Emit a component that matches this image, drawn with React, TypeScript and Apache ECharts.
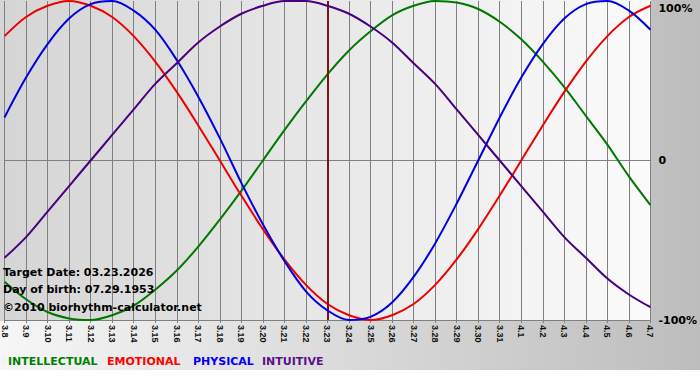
import React, { useEffect, useRef } from 'react';
import * as echarts from 'echarts';

const days = [
  '3.8', '3.9', '3.10', '3.11', '3.12', '3.13', '3.14', '3.15', '3.16', '3.17', '3.18',
  '3.19', '3.20', '3.21', '3.22', '3.23', '3.24', '3.25', '3.26', '3.27', '3.28', '3.29',
  '3.30', '3.31', '4.1', '4.2', '4.3', '4.4', '4.5', '4.6', '4.7',
];

const intellectual = [
  -76, -87, -95, -99, -100, -97, -91, -81, -69, -54, -37, -19, 0, 19, 37, 54,
  69, 81, 91, 97, 100, 99, 95, 87, 76, 62, 46, 28, 10, -10, -28,
];
const emotional = [
  78, 90, 97, 100, 97, 90, 78, 62, 43, 22, 0, -22, -43, -62, -78, -90,
  -97, -100, -97, -90, -78, -62, -43, -22, 0, 22, 43, 62, 78, 90, 97,
];
const physical = [
  27, 52, 73, 89, 98, 100, 94, 82, 63, 40, 14, -14, -40, -63, -82, -94,
  -100, -98, -89, -73, -52, -27, 0, 27, 52, 73, 89, 98, 100, 94, 82,
];
const intuitive = [
  -61, -48, -32, -16, 0, 16, 32, 48, 61, 74, 84, 92, 97, 100, 100, 97,
  92, 84, 74, 61, 48, 32, 16, 0, -16, -32, -48, -61, -74, -84, -92,
];

const seriesNames = ['INTELLECTUAL', 'EMOTIONAL', 'PHYSICAL', 'INTUITIVE'];
const seriesData = [intellectual, emotional, physical, intuitive];
const lineColors = ['#007800', '#ee0000', '#0000e0', '#48007f'];
const legendColors = ['#008000', '#ff0000', '#0000ff', '#5c0f8b'];
const targetDay = '3.23';
const yTicks = { min: -100, max: 100, step: 100 };
const infoLines = ['Target Date: 03.23.2026', 'Day of birth: 07.29.1953', '\u00a92010 biorhythm-calculator.net'];

export default function App() {
  const ref = useRef<HTMLDivElement>(null);

  useEffect(() => {
    if (!ref.current) return;
    const chart = echarts.init(ref.current, null, { renderer: 'svg' });

    const legendX = [8, 107, 193, 262];
    const infoY = [272, 289, 307];

    const graphic: any[] = [
      {
        type: 'rect',
        z: -10,
        silent: true,
        shape: { x: 0, y: 0, width: 700, height: 370 },
        style: {
          fill: {
            type: 'linear', x: 0, y: 0, x2: 1, y2: 0,
            colorStops: [
              { offset: 0, color: '#f6f6f6' },
              { offset: 1, color: '#bdbdbd' },
            ],
          },
        },
      },
      {
        type: 'rect',
        z: -9,
        silent: true,
        shape: { x: 0, y: 0, width: 651, height: 321 },
        style: {
          fill: {
            type: 'linear', x: 0, y: 0, x2: 1, y2: 0,
            colorStops: [
              { offset: 0, color: '#d5d5d5' },
              { offset: 1, color: '#fbfbfb' },
            ],
          },
        },
      },
      ...seriesNames.map((name, i) => ({
        type: 'text',
        z: 100,
        x: legendX[i],
        y: 361,
        style: {
          text: name,
          fill: legendColors[i],
          font: 'bold 11px "DejaVu Sans"',
          verticalAlign: 'middle',
        },
      })),
      ...infoLines.map((t, i) => ({
        type: 'text',
        z: 100,
        x: 3,
        y: infoY[i],
        style: {
          text: t,
          fill: '#000',
          font: 'bold 11px "DejaVu Sans"',
          verticalAlign: 'middle',
        },
      })),
    ];

    const series: any[] = seriesNames.map((name, i) => ({
      name,
      type: 'line',
      data: seriesData[i],
      smooth: 0.33,
      symbol: 'none',
      lineStyle: { width: 2, color: lineColors[i] },
      itemStyle: { color: lineColors[i] },
      z: 3 + i,
    }));
    series[0].markLine = {
      silent: true,
      symbol: ['none', 'none'],
      label: { show: false },
      lineStyle: { color: '#7a1414', width: 2, type: 'solid' },
      data: [{ xAxis: targetDay }],
    };

    chart.setOption({
      animation: false,
      backgroundColor: 'transparent',
      graphic,
      grid: { left: 0, right: 49, top: 1, bottom: 60, containLabel: false },
      xAxis: {
        type: 'category',
        data: days,
        boundaryGap: false,
        axisLine: { show: true, onZero: false, lineStyle: { color: '#808080', width: 1 } },
        axisTick: { show: true, length: 3, interval: 0, lineStyle: { color: '#808080' } },
        axisLabel: {
          interval: 0,
          rotate: -90,
          margin: 5,
          fontSize: 9,
          fontWeight: 'bold',
          fontFamily: '"Liberation Sans", Arial, sans-serif',
          color: '#111',
        },
        splitLine: { show: true, interval: 0, lineStyle: { color: '#808080', width: 1 } },
      },
      yAxis: {
        type: 'value',
        position: 'right',
        min: yTicks.min,
        max: yTicks.max,
        interval: yTicks.step,
        axisLine: { show: false },
        axisTick: { show: false },
        splitLine: {
          show: true,
          lineStyle: { color: ['#808080', '#808080', 'rgba(0,0,0,0)'], width: 1 },
        },
        axisLabel: {
          margin: 8,
          fontSize: 11,
          fontWeight: 'bold',
          fontFamily: '"DejaVu Sans", sans-serif',
          color: '#000',
          formatter: (v: number) => (v === 100 ? '{t|100%}' : v === 0 ? '0' : v + '%'),
          rich: {
            t: {
              fontSize: 11,
              fontWeight: 'bold',
              fontFamily: '"DejaVu Sans", sans-serif',
              color: '#000',
              padding: [14, 0, 0, 0],
            },
          },
        },
      },
      series,
    });

    return () => chart.dispose();
  }, []);

  return (
    <div
      ref={ref}
      style={{ position: 'absolute', left: 0, top: 0, width: 700, height: 380 }}
    />
  );
}
